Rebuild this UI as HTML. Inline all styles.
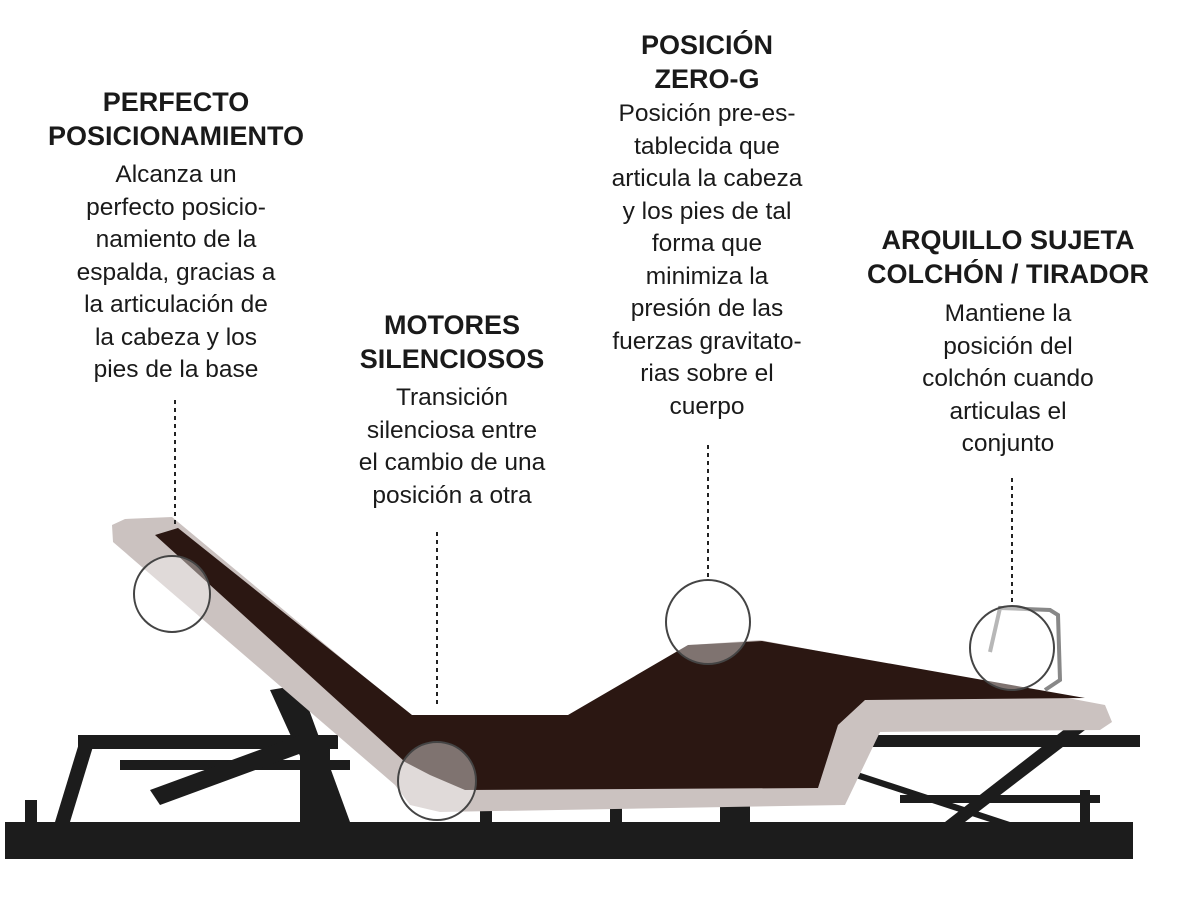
<!DOCTYPE html>
<html><head><meta charset="utf-8"><style>
body{margin:0;width:1200px;height:900px;background:#fff;position:relative;overflow:hidden;font-family:"Liberation Sans",sans-serif;color:#1a1a1a}
.b{position:absolute;width:400px;text-align:center;line-height:32.5px}
.t{font-weight:bold;font-size:27px;line-height:34px}
.p{font-size:24.5px}
svg{position:absolute;left:0;top:0}
</style></head><body>
<svg width="1200" height="900" viewBox="0 0 1200 900">
<g fill="#1c1c1c">
<rect x="5" y="822" width="1128" height="37"/>
<rect x="25" y="800" width="12" height="25"/>
<rect x="78" y="735" width="260" height="14"/>
<polygon points="80,740 95,740 70,822 55,822"/>
<rect x="120" y="760" width="230" height="10"/>
<polygon points="270,690 300,685 350,822 330,822"/>
<rect x="300" y="740" width="30" height="85"/>
<polygon points="150,790 300,735 310,750 160,805"/>
<rect x="820" y="735" width="320" height="12"/>
<polygon points="740,740 760,740 1010,822 990,822"/>
<polygon points="1070,725 1085,730 965,822 945,822"/>
<rect x="900" y="795" width="200" height="8"/>
<rect x="1080" y="790" width="10" height="35"/>
<rect x="480" y="805" width="12" height="20"/>
<rect x="610" y="805" width="12" height="20"/>
<rect x="720" y="780" width="30" height="45"/>
</g>
<polygon fill="#cbc2c0" points="112,525 125,519 172,517 410,715 570,715 690,645 760,640 1105,705 1112,722 1100,730 880,732 845,805 440,812 410,805 395,785 113,542"/>
<polygon fill="#2b1712" points="155,535 178,528 412,715 568,715 688,645 762,641 1085,698 865,700 838,725 818,788 465,790 430,775 405,762"/>
<path d="M990,652 L1000,608 L1050,610 L1058,615 L1060,680 L1045,690" fill="none" stroke="#888" stroke-width="4"/>
<g stroke="#222" stroke-width="2" stroke-dasharray="4,4">
<line x1="175" y1="400" x2="175" y2="528"/>
<line x1="437" y1="532" x2="437" y2="705"/>
<line x1="708" y1="445" x2="708" y2="580"/>
<line x1="1012" y1="478" x2="1012" y2="607"/>
</g>
<g stroke="#444" stroke-width="2" fill="rgba(255,255,255,0.4)">
<circle cx="172" cy="594" r="38"/>
<circle cx="437" cy="781" r="39"/>
<circle cx="708" cy="622" r="42"/>
<circle cx="1012" cy="648" r="42"/>
</g>
</svg>
<div class="b" style="left:-24px;top:85px"><div class="t">PERFECTO<br>POSICIONAMIENTO</div><div class="p" style="margin-top:6px">Alcanza un<br>perfecto posicio-<br>namiento de la<br>espalda, gracias a<br>la articulación de<br>la cabeza y los<br>pies de la base</div></div>
<div class="b" style="left:252px;top:308px"><div class="t">MOTORES<br>SILENCIOSOS</div><div class="p" style="margin-top:6px">Transición<br>silenciosa entre<br>el cambio de una<br>posición a otra</div></div>
<div class="b" style="left:507px;top:28px"><div class="t">POSICIÓN<br>ZERO-G</div><div class="p" style="margin-top:2px">Posición pre-es-<br>tablecida que<br>articula la cabeza<br>y los pies de tal<br>forma que<br>minimiza la<br>presión de las<br>fuerzas gravitato-<br>rias sobre el<br>cuerpo</div></div>
<div class="b" style="left:808px;top:223px"><div class="t">ARQUILLO SUJETA<br>COLCHÓN / TIRADOR</div><div class="p" style="margin-top:7px">Mantiene la<br>posición del<br>colchón cuando<br>articulas el<br>conjunto</div></div>
</body></html>
